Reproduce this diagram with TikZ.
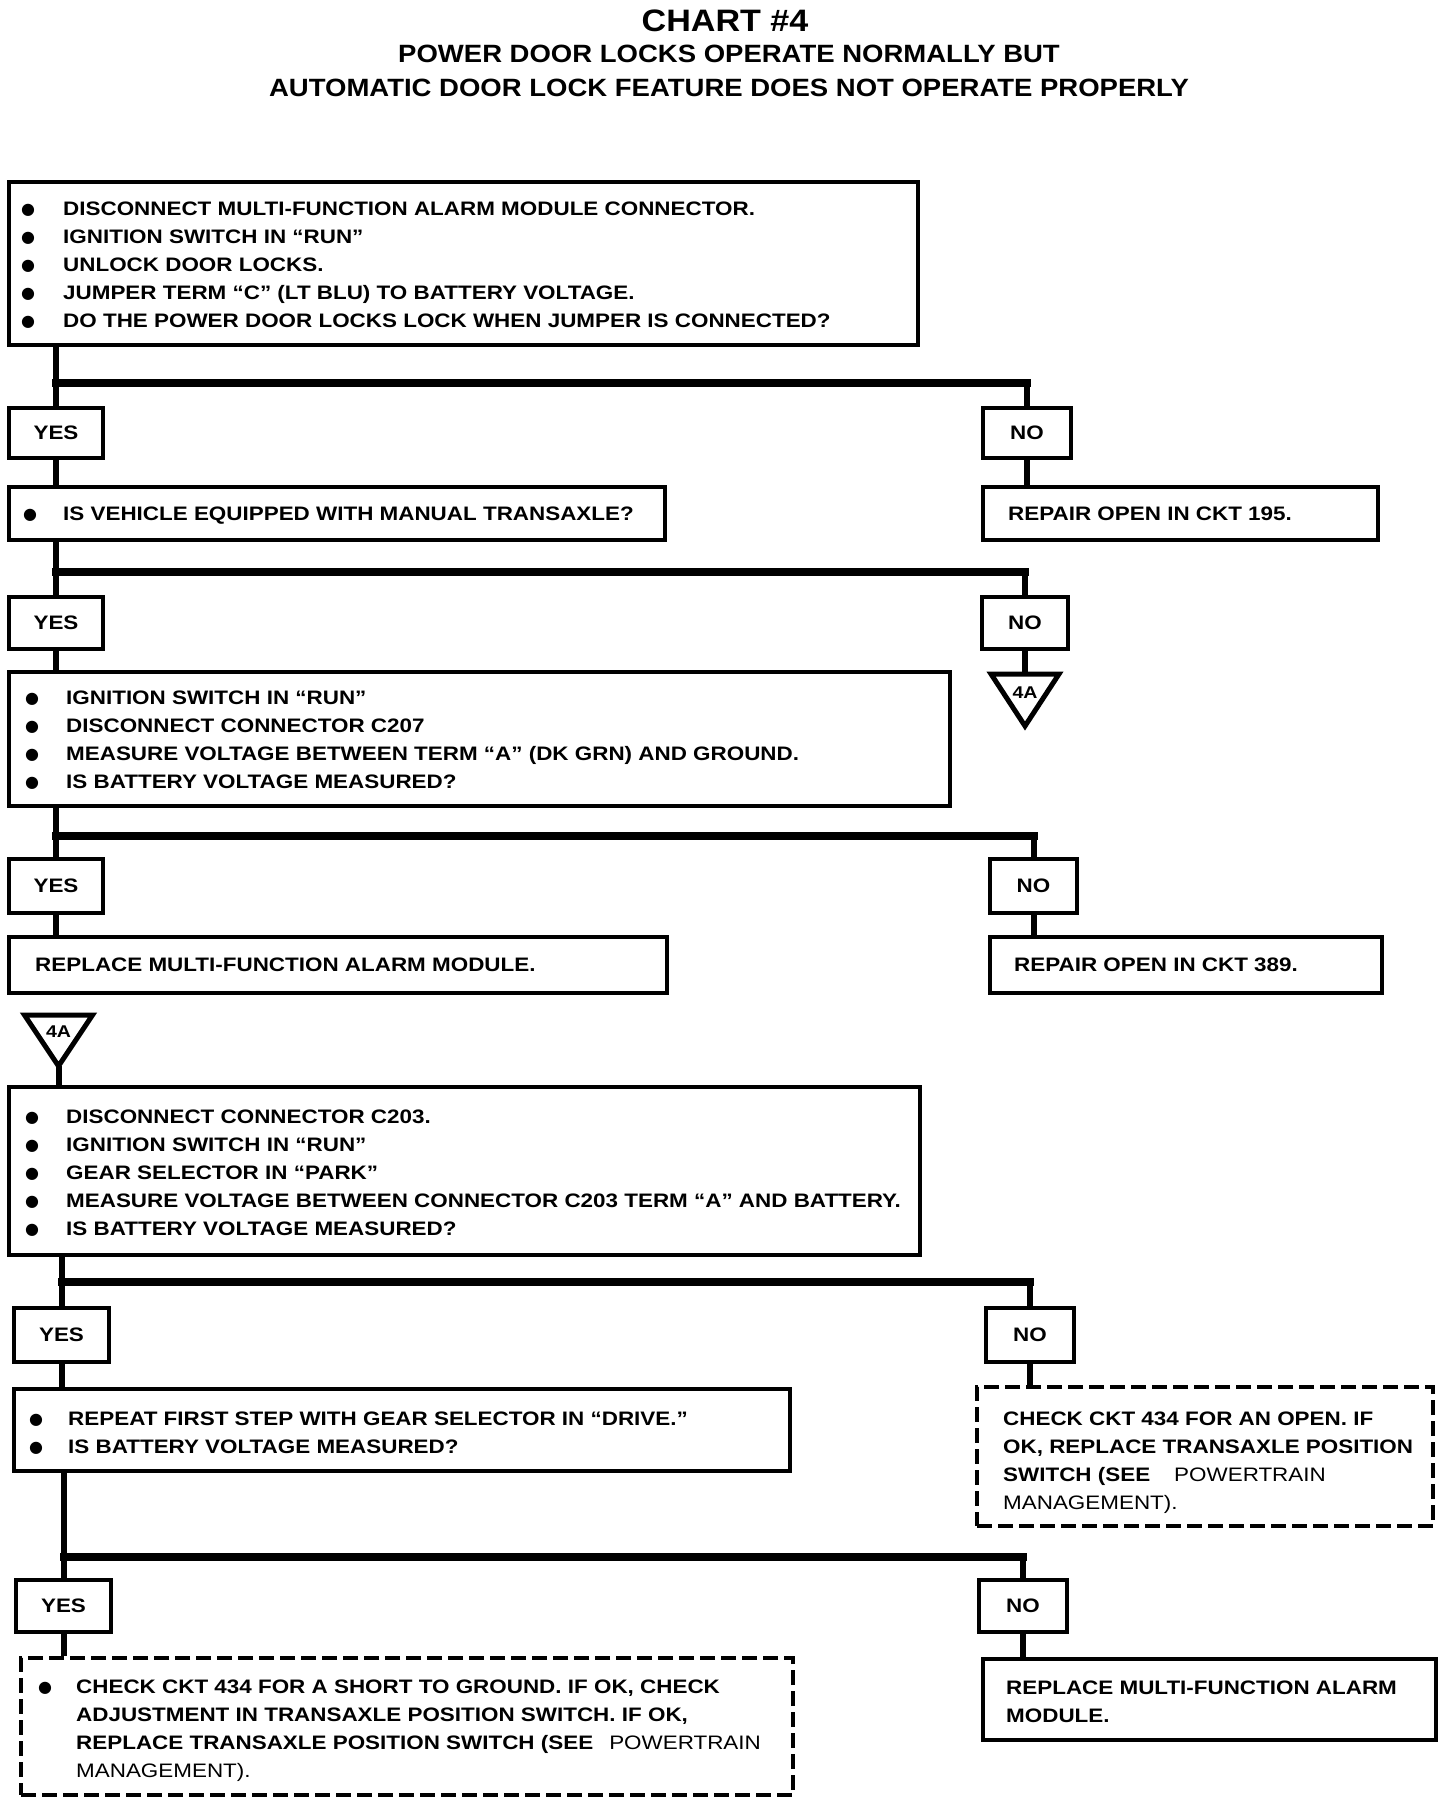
\documentclass[tikz,border=0pt]{standalone}
\usepackage{fontspec}
\setmainfont{Liberation Sans}
\newfontfamily\bodyfnt{Liberation Sans}[FakeStretch=1.15]
\newfontfamily\headfnt{Liberation Sans}[FakeStretch=1.1]
\newfontfamily\bulfnt{DejaVu Sans}
\newcommand\bodytext{\fontsize{19.5}{28}\bodyfnt\bfseries}
\newcommand\bul[1][40pt]{\makebox[#1][l]{\hspace{-1pt}\raisebox{1.5pt}{\fontsize{16}{28}\bulfnt ●}}}
\newcommand\regtxt[1]{{\mdseries #1}}
\tikzset{
  boxs/.style={draw, line width=3.5pt, inner sep=0pt},
  dboxs/.style={boxs, dash pattern=on 15pt off 6pt},
  tags/.style={draw, line width=3.5pt, inner sep=0pt, font=\bodytext},
  txt/.style={anchor=north west, inner sep=0pt, align=left, font=\bodytext},
  conn/.style={line width=6pt},
  barl/.style={line width=8pt, line cap=rect},
  tri/.style={line width=5pt, line join=miter},
  trilab/.style={anchor=base, inner sep=0pt, font=\fontsize{17}{17}\bodyfnt\bfseries},
  head/.style={anchor=base, inner sep=0pt},
}
\begin{document}
\begin{tikzpicture}[x=1pt,y=-1pt]
\fill[white] (0,0) rectangle (1440,1806);
\useasboundingbox (0,0) rectangle (1440,1806);

% headings
\node[head, font=\fontsize{31}{31}\headfnt\bfseries] (title) at (725,32) {CHART \#4};
\node[head, font=\fontsize{25}{25}\headfnt\bfseries] (sub1) at (729,63) {POWER DOOR LOCKS OPERATE NORMALLY BUT};
\node[head, font=\fontsize{25}{25}\headfnt\bfseries] (sub2) at (729,97) {AUTOMATIC DOOR LOCK FEATURE DOES NOT OPERATE PROPERLY};

% boxes
\node[boxs, minimum width=909pt, minimum height=163pt] (box1) at (463.5,263.5) {};
\node[txt] (box1t) at (22,202) {\bul[41pt]DISCONNECT MULTI-FUNCTION ALARM MODULE CONNECTOR.\\
\bul[41pt]IGNITION SWITCH IN “RUN”\\
\bul[41pt]UNLOCK DOOR LOCKS.\\
\bul[41pt]JUMPER TERM “C” (LT BLU) TO BATTERY VOLTAGE.\\
\bul[41pt]DO THE POWER DOOR LOCKS LOCK WHEN JUMPER IS CONNECTED?};

\node[tags, minimum width=94pt, minimum height=50pt] (yes1) at (56,433) {YES};
\node[tags, minimum width=88pt, minimum height=50pt] (no1) at (1027,433) {NO};

\node[boxs, minimum width=656pt, minimum height=53pt] (q2) at (337,513.5) {};
\node[txt] (q2t) at (24,507) {\bul[39pt]IS VEHICLE EQUIPPED WITH MANUAL TRANSAXLE?};
\node[boxs, minimum width=395pt, minimum height=53pt] (r195) at (1180.5,513.5) {};
\node[txt] (r195t) at (1008,507) {REPAIR OPEN IN CKT 195.};

\node[tags, minimum width=94pt, minimum height=52pt] (yes2) at (56,623) {YES};
\node[tags, minimum width=86pt, minimum height=52pt] (no2) at (1025,623) {NO};

\coordinate (t1top) at (1025,674);
\coordinate (t1tip) at (1025,726);
\draw[tri] (t1top) ++(-34,0) -- ++(68,0) -- (t1tip) -- cycle;
\node[trilab] (t1lab) at (1025,698) {4A};

\node[boxs, minimum width=941pt, minimum height=134pt] (box3) at (479.5,739) {};
\node[txt] (box3t) at (26,691) {\bul[40pt]IGNITION SWITCH IN “RUN”\\
\bul[40pt]DISCONNECT CONNECTOR C207\\
\bul[40pt]MEASURE VOLTAGE BETWEEN TERM “A” (DK GRN) AND GROUND.\\
\bul[40pt]IS BATTERY VOLTAGE MEASURED?};

\node[tags, minimum width=94pt, minimum height=54pt] (yes3) at (56,886) {YES};
\node[tags, minimum width=87pt, minimum height=54pt] (no3) at (1033.5,886) {NO};

\node[boxs, minimum width=658pt, minimum height=56pt] (rep1) at (338,965) {};
\node[txt] (rep1t) at (35,958) {REPLACE MULTI-FUNCTION ALARM MODULE.};
\node[boxs, minimum width=392pt, minimum height=56pt] (r389) at (1186,965) {};
\node[txt] (r389t) at (1014,958) {REPAIR OPEN IN CKT 389.};

\coordinate (t2top) at (58.5,1015);
\coordinate (t2tip) at (58.5,1066);
\draw[tri] (t2top) ++(-34,0) -- ++(68,0) -- (t2tip) -- cycle;
\node[trilab] (t2lab) at (58.5,1037) {4A};

\node[boxs, minimum width=911pt, minimum height=168pt] (box4) at (464.5,1171) {};
\node[txt] (box4t) at (26,1110) {\bul[40pt]DISCONNECT CONNECTOR C203.\\
\bul[40pt]IGNITION SWITCH IN “RUN”\\
\bul[40pt]GEAR SELECTOR IN “PARK”\\
\bul[40pt]MEASURE VOLTAGE BETWEEN CONNECTOR C203 TERM “A” AND BATTERY.\\
\bul[40pt]IS BATTERY VOLTAGE MEASURED?};

\node[tags, minimum width=95pt, minimum height=54pt] (yes4) at (61.5,1335) {YES};
\node[tags, minimum width=88pt, minimum height=54pt] (no4) at (1030,1335) {NO};

\node[boxs, minimum width=776pt, minimum height=82pt] (box5) at (402,1430) {};
\node[txt] (box5t) at (30,1412) {\bul[38pt]REPEAT FIRST STEP WITH GEAR SELECTOR IN “DRIVE.”\\
\bul[38pt]IS BATTERY VOLTAGE MEASURED?};

\node[dboxs, minimum width=456pt, minimum height=139pt] (dash1) at (1205,1456.5) {};
\node[txt] (dash1t) at (1003,1412) {CHECK CKT 434 FOR AN OPEN. IF\\
OK, REPLACE TRANSAXLE POSITION\\
SWITCH (SEE\hspace{24pt}\regtxt{POWERTRAIN}\\
\regtxt{MANAGEMENT).}};

\node[tags, minimum width=95pt, minimum height=52pt] (yes5) at (63.5,1606) {YES};
\node[tags, minimum width=88pt, minimum height=52pt] (no5) at (1023,1606) {NO};

\node[dboxs, minimum width=772pt, minimum height=137pt] (dash2) at (407,1726.5) {};
\node[txt] (dash2t) at (39,1680) {\bul[37pt]CHECK CKT 434 FOR A SHORT TO GROUND. IF OK, CHECK\\
\hspace*{37pt}ADJUSTMENT IN TRANSAXLE POSITION SWITCH. IF OK,\\
\hspace*{37pt}REPLACE TRANSAXLE POSITION SWITCH (SEE\hspace{16pt}\regtxt{POWERTRAIN}\\
\hspace*{37pt}\regtxt{MANAGEMENT).}};

\node[boxs, minimum width=453pt, minimum height=81pt] (rep2) at (1209.5,1699.5) {};
\node[txt] (rep2t) at (1006,1681) {REPLACE MULTI-FUNCTION ALARM\\
MODULE.};

% connectors
\draw[conn] (yes1.north |- box1.south) -- (yes1.north);
\coordinate (b1) at (56,383);
\draw[barl] (b1) -- (b1 -| no1.north);
\draw[conn] (b1 -| no1.north) -- (no1.north);
\draw[conn] (yes1.south) -- (yes1.south |- q2.north);
\draw[conn] (no1.south) -- (no1.south |- r195.north);

\draw[conn] (yes2.north |- q2.south) -- (yes2.north);
\coordinate (b2) at (56,572);
\draw[barl] (b2) -- (b2 -| no2.north);
\draw[conn] (b2 -| no2.north) -- (no2.north);
\draw[conn] (yes2.south) -- (yes2.south |- box3.north);
\draw[conn] (no2.south) -- (t1top);

\draw[conn] (yes3.north |- box3.south) -- (yes3.north);
\coordinate (b3) at (56,836);
\draw[barl] (b3) -- (b3 -| no3.north);
\draw[conn] (b3 -| no3.north) -- (no3.north);
\draw[conn] (yes3.south) -- (yes3.south |- rep1.north);
\draw[conn] (no3.south) -- (no3.south |- r389.north);

\draw[conn] (t2tip) -- (t2tip |- box4.north);

\draw[conn] (yes4.north |- box4.south) -- (yes4.north);
\coordinate (b4) at (61.5,1282);
\draw[barl] (b4) -- (b4 -| no4.north);
\draw[conn] (b4 -| no4.north) -- (no4.north);
\draw[conn] (yes4.south) -- (yes4.south |- box5.north);
\draw[conn] (no4.south) -- (no4.south |- dash1.north);

\draw[conn] (yes5.north |- box5.south) -- (yes5.north);
\coordinate (b5) at (63.5,1557);
\draw[barl] (b5) -- (b5 -| no5.north);
\draw[conn] (b5 -| no5.north) -- (no5.north);
\draw[conn] (yes5.south) -- (yes5.south |- dash2.north);
\draw[conn] (no5.south) -- (no5.south |- rep2.north);
\end{tikzpicture}
\end{document}
